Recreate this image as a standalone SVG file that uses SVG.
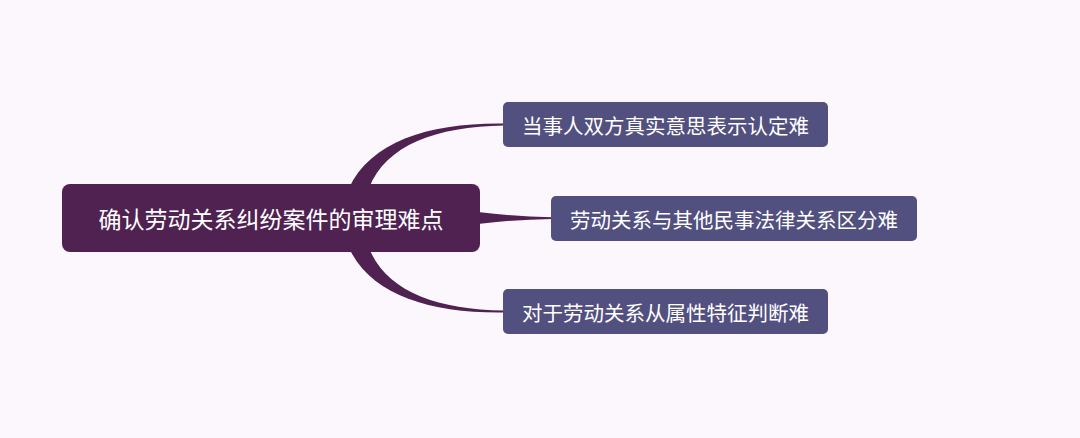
<svg xmlns="http://www.w3.org/2000/svg" width="1080" height="438" viewBox="0 0 1080 438">
  <style>
    .root { fill: #4f2252; }
    .child { fill: #52507f; }
    .conn { fill: #4f2252; }
    text { font-family: "Noto Sans CJK SC", "Noto Sans", sans-serif; fill: #ffffff; text-anchor: middle; dominant-baseline: central; }
    .rt { font-size: 23px; }
    .ct { font-size: 20.5px; }
  </style>
  <rect width="1080" height="438" fill="#fcf7fc"/>
  <g id="connectors">
    <path class="conn" d="M349,188 C371,141 430,122.5 504,123.5 L504,125.5 C436,126.5 386,145 369,188 Z"/>
    <path class="conn" d="M349,248 C371,295 430,313.5 504,312.5 L504,310.5 C436,309.5 386,291 369,248 Z"/>
    <path class="conn" d="M478,212 Q515,216.5 552,217.3 L552,219 Q515,219.5 478,224 Z"/>
  </g>
  <g id="root">
    <rect class="root" x="62" y="184" width="418" height="68" rx="8"/>
    <text class="rt" x="271" y="218">确认劳动关系纠纷案件的审理难点</text>
  </g>
  <g id="child1">
    <rect class="child" x="503" y="102" width="325" height="45" rx="5"/>
    <text class="ct" x="665.5" y="124.5">当事人双方真实意思表示认定难</text>
  </g>
  <g id="child2">
    <rect class="child" x="551" y="196" width="366" height="45" rx="5"/>
    <text class="ct" x="734" y="218.5">劳动关系与其他民事法律关系区分难</text>
  </g>
  <g id="child3">
    <rect class="child" x="503" y="289" width="325" height="45" rx="5"/>
    <text class="ct" x="665.5" y="311.5">对于劳动关系从属性特征判断难</text>
  </g>
</svg>
